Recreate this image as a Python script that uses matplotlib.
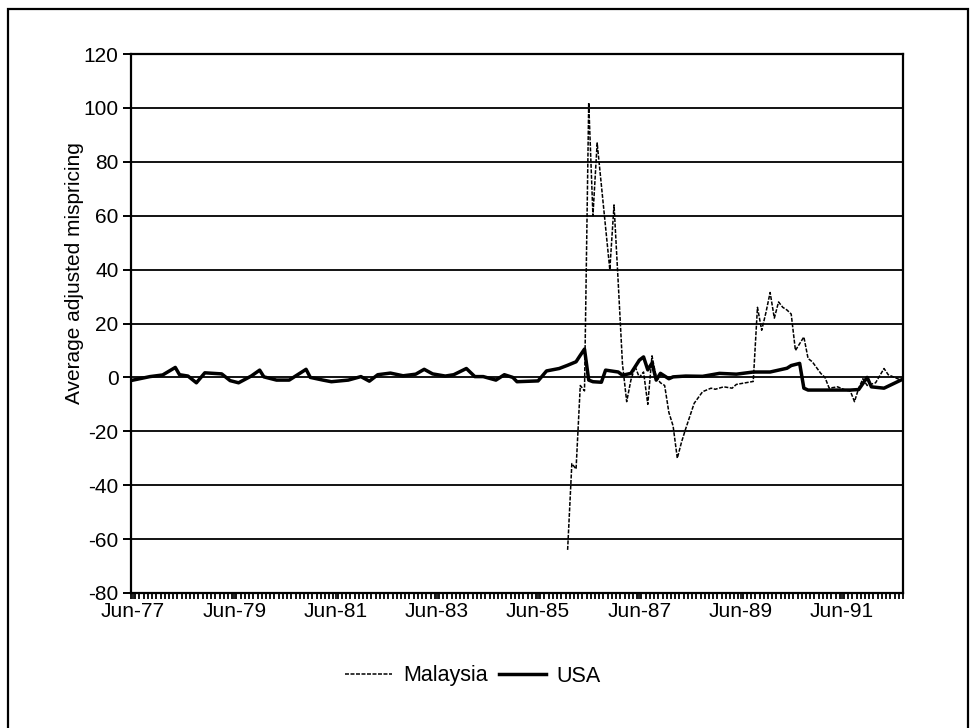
import matplotlib
import numpy as np

matplotlib.use("Agg")

from matplotlib import pyplot as plt
from matplotlib.patches import Rectangle

plt.rcParams["font.family"] = ["Liberation Sans", "DejaVu Sans"]
plt.rcParams["axes.unicode_minus"] = False

# monthly categories, Jun-77 .. Aug-92
n_months = 183
tick_months = [0, 24, 48, 72, 96, 120, 144, 168]
tick_labels = ["Jun-77", "Jun-79", "Jun-81", "Jun-83", "Jun-85", "Jun-87", "Jun-89", "Jun-91"]

# series vertices: month offset from Jun-77 and average adjusted mispricing
usa_month = [
    0, 4, 7, 10, 11, 13, 15, 17, 21, 23, 25, 28, 30, 31, 34, 37, 39, 41, 42, 45,
    47, 51, 54, 56, 58, 61, 64, 67, 69, 71, 74, 76, 79, 81, 83, 86, 88, 90, 91, 96,
    98, 101, 103, 105, 106, 107, 108, 109, 111, 112, 115, 116, 118, 120, 121, 122,
    123, 124, 125, 127, 128, 131, 135, 139, 143, 147, 151, 155, 156, 158, 159, 160,
    170, 172, 174, 175, 178, 180, 182,
]
usa_value = [
    -1.0, 0.3, 0.9, 3.7, 1.0, 0.5, -2.0, 1.7, 1.3, -1.2, -2.0, 0.5, 2.7, 0.2, -1.0,
    -1.0, 1.0, 3.0, 0.0, -1.0, -1.6, -1.0, 0.3, -1.4, 1.0, 1.6, 0.6, 1.2, 3.0, 1.3,
    0.5, 1.0, 3.3, 0.3, 0.3, -1.0, 1.0, 0.0, -1.6, -1.3, 2.4, 3.3, 4.5, 5.8, 8.2,
    10.5, -1.0, -1.6, -1.8, 2.7, 2.0, 0.8, 1.5, 6.4, 7.6, 2.8, 5.3, -1.0, 1.5, -0.5,
    0.2, 0.5, 0.4, 1.5, 1.2, 2.0, 2.0, 3.4, 4.4, 5.2, -4.0, -4.7, -4.7, -4.5, 0.0,
    -3.5, -4.0, -2.5, -1.0,
]

malaysia_month = [
    103, 104, 105, 106, 107, 108, 109, 110, 113, 114, 115, 116, 117, 118, 119, 120,
    121, 122, 123, 124, 125, 126, 127, 128, 129, 130, 131, 133, 135, 137, 138, 140,
    142, 143, 147, 148, 149, 150, 151, 152, 153, 154, 155, 156, 157, 158, 159, 160,
    161, 163, 164, 165, 167, 169, 170, 171, 172, 173, 174, 176, 178, 179, 182,
]
malaysia_value = [
    -64.0, -32.0, -34.0, -3.0, -5.0, 102.0, 60.0, 87.0, 40.0, 64.0, 35.0, 5.0, -9.0,
    -1.0, 4.0, 0.0, 2.0, -10.0, 8.0, 0.0, -2.0, -3.0, -13.0, -18.0, -30.0, -24.0,
    -19.0, -9.6, -5.3, -4.0, -4.4, -3.5, -4.0, -2.6, -1.5, 26.0, 17.5, 24.0, 31.5,
    22.0, 28.0, 26.0, 25.0, 23.5, 10.0, 12.5, 15.0, 7.0, 5.8, 1.5, 0.0, -4.0, -3.5,
    -4.8, -5.0, -9.0, -4.0, -0.5, -3.0, -2.0, 3.3, 1.0, -1.0,
]

W, H = 976, 728
fig = plt.figure(figsize=(W / 100, H / 100), dpi=100)
ax = fig.add_axes([131 / W, 1 - 593 / H, (903 - 131) / W, (593 - 54) / H])

# outer frame of the exhibit (runs off the bottom of the page)
fig.add_artist(
    Rectangle(
        (8 / W, -0.1), 960 / W, 1.1 - 9 / H,
        transform=fig.transFigure, fill=False, edgecolor="black", linewidth=1.6,
    )
)

ax.set_ylim(-80, 120)
ax.set_yticks(np.arange(-80, 121, 20))
ax.yaxis.grid(True, color="black", linewidth=1.3)
ax.set_axisbelow(True)

ax.plot(
    malaysia_month, malaysia_value, color="black", linewidth=1.1,
    dashes=(2.6, 1.0), label="Malaysia",
)
ax.plot(usa_month, usa_value, color="black", linewidth=2.5, label="USA")

ax.set_xlim(-0.5, n_months - 0.5)
ax.set_xticks(tick_months)
ax.set_xticklabels(tick_labels)
ax.set_xticks(np.arange(-0.5, n_months, 1), minor=True)

for side in ["left", "bottom", "right", "top"]:
    ax.spines[side].set_linewidth(1.6)
ax.tick_params(axis="y", direction="out", length=6, width=1.4, pad=3, labelsize=15)
ax.tick_params(axis="x", which="major", direction="out", length=4, width=1.2, pad=2.5, labelsize=15)
ax.tick_params(axis="x", which="minor", direction="out", length=4, width=1.3)

fig.text(
    75 / W, 1 - 273 / H, "Average adjusted mispricing",
    rotation=90, ha="center", va="center", fontsize=15,
)

fig.legend(
    loc="center", bbox_to_anchor=(473 / W, 1 - 676 / H), ncol=2, frameon=False,
    fontsize=15.5, handlelength=2.2, handletextpad=0.5, columnspacing=0.5,
)

fig.savefig("out.png", dpi=100)
plt.close(fig)
